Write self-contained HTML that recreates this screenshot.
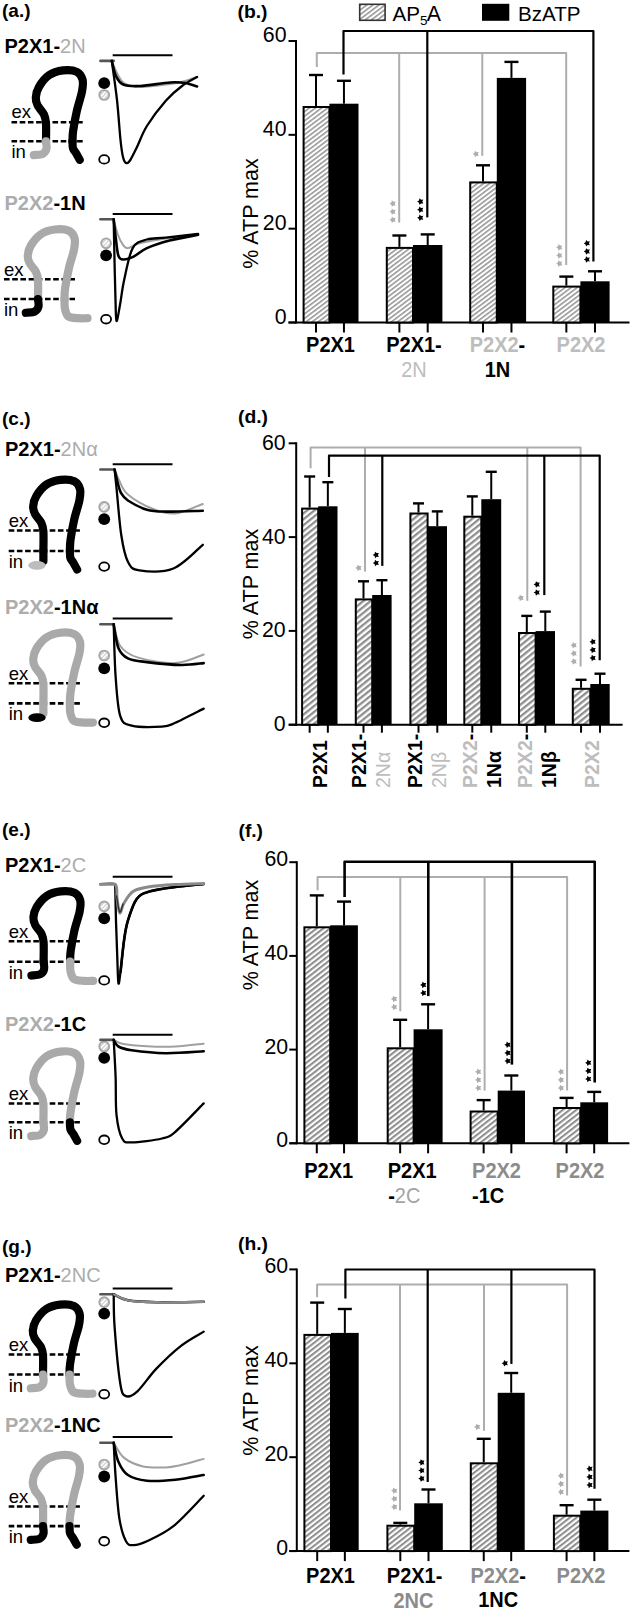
<!DOCTYPE html>
<html><head><meta charset="utf-8"><style>
html,body{margin:0;padding:0;background:#fff;width:633px;height:1611px;overflow:hidden;}
svg{display:block;}
</style></head><body>
<svg width="633" height="1611" viewBox="0 0 633 1611" font-family='&quot;Liberation Sans&quot;, sans-serif'>
<defs><pattern id="hatch" patternUnits="userSpaceOnUse" width="3.67" height="3.67" patternTransform="rotate(53)"><rect width="3.67" height="3.67" fill="#fff"/><rect x="0" y="0" width="1.58" height="3.67" fill="#969696"/></pattern><pattern id="hatchd" patternUnits="userSpaceOnUse" width="4.6" height="4.6" patternTransform="rotate(51)"><rect width="4.6" height="4.6" fill="#fff"/><rect x="0" y="0" width="2.3" height="4.6" fill="#8e8e8e"/></pattern><pattern id="hatchf" patternUnits="userSpaceOnUse" width="4.15" height="4.15" patternTransform="rotate(52)"><rect width="4.15" height="4.15" fill="#fff"/><rect x="0" y="0" width="2.08" height="4.15" fill="#8e8e8e"/></pattern><pattern id="hatchh" patternUnits="userSpaceOnUse" width="4.1" height="4.1" patternTransform="rotate(52)"><rect width="4.1" height="4.1" fill="#fff"/><rect x="0" y="0" width="2.05" height="4.1" fill="#8e8e8e"/></pattern></defs>
<rect width="633" height="1611" fill="#fff"/>
<line x1="296" y1="40" x2="296" y2="323.5" stroke="#000" stroke-width="2"/>
<line x1="288.5" y1="322.5" x2="296" y2="322.5" stroke="#000" stroke-width="2"/>
<text x="286.5" y="323.8" font-size="21.3" font-weight="normal" fill="#000" text-anchor="end">0</text>
<line x1="288.5" y1="228.67" x2="296" y2="228.67" stroke="#000" stroke-width="2"/>
<text x="286.5" y="229.97" font-size="21.3" font-weight="normal" fill="#000" text-anchor="end">20</text>
<line x1="288.5" y1="134.83" x2="296" y2="134.83" stroke="#000" stroke-width="2"/>
<text x="286.5" y="136.13" font-size="21.3" font-weight="normal" fill="#000" text-anchor="end">40</text>
<line x1="288.5" y1="41" x2="296" y2="41" stroke="#000" stroke-width="2"/>
<text x="286.5" y="42.3" font-size="21.3" font-weight="normal" fill="#000" text-anchor="end">60</text>
<line x1="288.5" y1="322.5" x2="629.5" y2="322.5" stroke="#000" stroke-width="2"/>
<text transform="translate(257.5 213.5) rotate(-90)" font-size="21.5" fill="#000" text-anchor="middle">% ATP max</text>
<text x="237.5" y="18" font-size="18.5" font-weight="bold" fill="#000" text-anchor="start" textLength="30" lengthAdjust="spacingAndGlyphs">(b.)</text>
<rect x="303.6" y="107" width="25.8" height="215.5" fill="url(#hatch)" stroke="#000" stroke-width="2"/>
<line x1="316" y1="75" x2="316" y2="106" stroke="#000" stroke-width="2"/>
<line x1="309" y1="75" x2="323" y2="75" stroke="#000" stroke-width="2.4"/>
<rect x="329.4" y="103.7" width="29.1" height="218.8" fill="#000"/>
<line x1="343.95" y1="80.8" x2="343.95" y2="103.7" stroke="#000" stroke-width="2"/>
<line x1="336.95" y1="80.8" x2="350.95" y2="80.8" stroke="#000" stroke-width="2.4"/>
<line x1="316" y1="322.5" x2="316" y2="332.5" stroke="#000" stroke-width="2"/>
<line x1="343.95" y1="322.5" x2="343.95" y2="332.5" stroke="#000" stroke-width="2"/>
<rect x="386.8" y="247.9" width="26.2" height="74.6" fill="url(#hatch)" stroke="#000" stroke-width="2"/>
<line x1="399.4" y1="235.5" x2="399.4" y2="246.9" stroke="#000" stroke-width="2"/>
<line x1="392.4" y1="235.5" x2="406.4" y2="235.5" stroke="#000" stroke-width="2.4"/>
<rect x="413" y="245" width="29.4" height="77.5" fill="#000"/>
<line x1="427.7" y1="234.4" x2="427.7" y2="245" stroke="#000" stroke-width="2"/>
<line x1="420.7" y1="234.4" x2="434.7" y2="234.4" stroke="#000" stroke-width="2.4"/>
<line x1="399.4" y1="322.5" x2="399.4" y2="332.5" stroke="#000" stroke-width="2"/>
<line x1="427.7" y1="322.5" x2="427.7" y2="332.5" stroke="#000" stroke-width="2"/>
<rect x="470.2" y="182.4" width="26.6" height="140.1" fill="url(#hatch)" stroke="#000" stroke-width="2"/>
<line x1="483" y1="165.3" x2="483" y2="181.4" stroke="#000" stroke-width="2"/>
<line x1="476" y1="165.3" x2="490" y2="165.3" stroke="#000" stroke-width="2.4"/>
<rect x="496.8" y="77.9" width="29.3" height="244.6" fill="#000"/>
<line x1="511.45" y1="61.9" x2="511.45" y2="77.9" stroke="#000" stroke-width="2"/>
<line x1="504.45" y1="61.9" x2="518.45" y2="61.9" stroke="#000" stroke-width="2.4"/>
<line x1="483" y1="322.5" x2="483" y2="332.5" stroke="#000" stroke-width="2"/>
<line x1="511.45" y1="322.5" x2="511.45" y2="332.5" stroke="#000" stroke-width="2"/>
<rect x="553.3" y="286.6" width="27.1" height="35.9" fill="url(#hatch)" stroke="#000" stroke-width="2"/>
<line x1="566.35" y1="276.6" x2="566.35" y2="285.6" stroke="#000" stroke-width="2"/>
<line x1="559.35" y1="276.6" x2="573.35" y2="276.6" stroke="#000" stroke-width="2.4"/>
<rect x="580.4" y="281.3" width="29.2" height="41.2" fill="#000"/>
<line x1="595" y1="271.3" x2="595" y2="281.3" stroke="#000" stroke-width="2"/>
<line x1="588" y1="271.3" x2="602" y2="271.3" stroke="#000" stroke-width="2.4"/>
<line x1="566.35" y1="322.5" x2="566.35" y2="332.5" stroke="#000" stroke-width="2"/>
<line x1="595" y1="322.5" x2="595" y2="332.5" stroke="#000" stroke-width="2"/>
<path d="M316.8 67 L316.8 53 L566.2 53 L566.2 265" fill="none" stroke="#adadad" stroke-width="2" stroke-linejoin="round"/>
<line x1="399.2" y1="53" x2="399.2" y2="222.5" stroke="#adadad" stroke-width="2"/>
<line x1="482.3" y1="53" x2="482.3" y2="155.8" stroke="#adadad" stroke-width="2"/>
<path d="M343.5 74.5 L343.5 31 L593.4 31 L593.4 261.5" fill="none" stroke="#000" stroke-width="2.2" stroke-linejoin="round"/>
<line x1="427.3" y1="31" x2="427.3" y2="217.4" stroke="#000" stroke-width="2.2"/>
<polygon points="389.5,219.8 391.39,218.7 391.85,216.57 393.48,218.02 395.65,217.8 394.77,219.8 395.65,221.8 393.48,221.58 391.85,223.03 391.39,220.9" fill="#adadad"/>
<polygon points="389.5,211.7 391.39,210.6 391.85,208.47 393.48,209.92 395.65,209.7 394.77,211.7 395.65,213.7 393.48,213.48 391.85,214.93 391.39,212.8" fill="#adadad"/>
<polygon points="389.5,203.6 391.39,202.5 391.85,200.37 393.48,201.82 395.65,201.6 394.77,203.6 395.65,205.6 393.48,205.38 391.85,206.83 391.39,204.7" fill="#adadad"/>
<polygon points="417.1,217.8 418.99,216.7 419.45,214.57 421.08,216.02 423.25,215.8 422.37,217.8 423.25,219.8 421.08,219.58 419.45,221.03 418.99,218.9" fill="#000"/>
<polygon points="417.1,209.7 418.99,208.6 419.45,206.47 421.08,207.92 423.25,207.7 422.37,209.7 423.25,211.7 421.08,211.48 419.45,212.93 418.99,210.8" fill="#000"/>
<polygon points="417.1,201.6 418.99,200.5 419.45,198.37 421.08,199.82 423.25,199.6 422.37,201.6 423.25,203.6 421.08,203.38 419.45,204.83 418.99,202.7" fill="#000"/>
<polygon points="472.6,154 474.49,152.9 474.95,150.77 476.58,152.22 478.75,152 477.87,154 478.75,156 476.58,155.78 474.95,157.23 474.49,155.1" fill="#adadad"/>
<polygon points="556.1,263.6 557.99,262.5 558.45,260.37 560.08,261.82 562.25,261.6 561.37,263.6 562.25,265.6 560.08,265.38 558.45,266.83 557.99,264.7" fill="#adadad"/>
<polygon points="556.1,255.5 557.99,254.4 558.45,252.27 560.08,253.72 562.25,253.5 561.37,255.5 562.25,257.5 560.08,257.28 558.45,258.73 557.99,256.6" fill="#adadad"/>
<polygon points="556.1,247.4 557.99,246.3 558.45,244.17 560.08,245.62 562.25,245.4 561.37,247.4 562.25,249.4 560.08,249.18 558.45,250.63 557.99,248.5" fill="#adadad"/>
<polygon points="583.7,259.5 585.59,258.4 586.05,256.27 587.68,257.72 589.85,257.5 588.97,259.5 589.85,261.5 587.68,261.28 586.05,262.73 585.59,260.6" fill="#000"/>
<polygon points="583.7,251.4 585.59,250.3 586.05,248.17 587.68,249.62 589.85,249.4 588.97,251.4 589.85,253.4 587.68,253.18 586.05,254.63 585.59,252.5" fill="#000"/>
<polygon points="583.7,243.3 585.59,242.2 586.05,240.07 587.68,241.52 589.85,241.3 588.97,243.3 589.85,245.3 587.68,245.08 586.05,246.53 585.59,244.4" fill="#000"/>
<text transform="translate(330.5 352.3) scale(0.93 1)" font-size="21.5" text-anchor="middle"><tspan fill="#000" font-weight="bold">P2X1</tspan></text>
<text transform="translate(414 352.3) scale(0.93 1)" font-size="21.5" text-anchor="middle"><tspan fill="#000" font-weight="bold">P2X1-</tspan></text>
<text transform="translate(414 377.3) scale(0.93 1)" font-size="21.5" text-anchor="middle"><tspan fill="#bdbdbd" font-weight="normal">2N</tspan></text>
<text transform="translate(497.5 352.3) scale(0.93 1)" font-size="21.5" text-anchor="middle"><tspan fill="#bdbdbd" font-weight="bold">P2X2</tspan><tspan fill="#000" font-weight="bold">-</tspan></text>
<text transform="translate(497.5 377.3) scale(0.93 1)" font-size="21.5" text-anchor="middle"><tspan fill="#000" font-weight="bold">1N</tspan></text>
<text transform="translate(581 352.3) scale(0.93 1)" font-size="21.5" text-anchor="middle"><tspan fill="#bdbdbd" font-weight="bold">P2X2</tspan></text>
<line x1="296.2" y1="442.3" x2="296.2" y2="725.7" stroke="#000" stroke-width="2"/>
<line x1="288.7" y1="724.7" x2="296.2" y2="724.7" stroke="#000" stroke-width="2"/>
<text x="285.7" y="731.2" font-size="21.3" font-weight="normal" fill="#000" text-anchor="end">0</text>
<line x1="288.7" y1="630.9" x2="296.2" y2="630.9" stroke="#000" stroke-width="2"/>
<text x="285.7" y="637.4" font-size="21.3" font-weight="normal" fill="#000" text-anchor="end">20</text>
<line x1="288.7" y1="537.1" x2="296.2" y2="537.1" stroke="#000" stroke-width="2"/>
<text x="285.7" y="543.6" font-size="21.3" font-weight="normal" fill="#000" text-anchor="end">40</text>
<line x1="288.7" y1="443.3" x2="296.2" y2="443.3" stroke="#000" stroke-width="2"/>
<text x="285.7" y="449.8" font-size="21.3" font-weight="normal" fill="#000" text-anchor="end">60</text>
<line x1="288.7" y1="724.7" x2="622.6" y2="724.7" stroke="#000" stroke-width="2"/>
<text transform="translate(257.5 584) rotate(-90)" font-size="21.5" fill="#000" text-anchor="middle">% ATP max</text>
<text x="238" y="423" font-size="18.5" font-weight="bold" fill="#000" text-anchor="start" textLength="30" lengthAdjust="spacingAndGlyphs">(d.)</text>
<rect x="302.1" y="508.6" width="16.1" height="216.1" fill="url(#hatchd)" stroke="#000" stroke-width="2"/>
<line x1="309.65" y1="476.5" x2="309.65" y2="507.6" stroke="#000" stroke-width="2"/>
<line x1="304.15" y1="476.5" x2="315.15" y2="476.5" stroke="#000" stroke-width="2.4"/>
<rect x="318.2" y="506.3" width="19.3" height="218.4" fill="#000"/>
<line x1="327.85" y1="482.2" x2="327.85" y2="506.3" stroke="#000" stroke-width="2"/>
<line x1="322.35" y1="482.2" x2="333.35" y2="482.2" stroke="#000" stroke-width="2.4"/>
<line x1="309.65" y1="724.7" x2="309.65" y2="732.7" stroke="#000" stroke-width="2"/>
<line x1="327.85" y1="724.7" x2="327.85" y2="732.7" stroke="#000" stroke-width="2"/>
<rect x="355.8" y="599.4" width="16.4" height="125.3" fill="url(#hatchd)" stroke="#000" stroke-width="2"/>
<line x1="363.5" y1="581.3" x2="363.5" y2="598.4" stroke="#000" stroke-width="2"/>
<line x1="358" y1="581.3" x2="369" y2="581.3" stroke="#000" stroke-width="2.4"/>
<rect x="372.2" y="595" width="19.4" height="129.7" fill="#000"/>
<line x1="381.9" y1="580.2" x2="381.9" y2="595" stroke="#000" stroke-width="2"/>
<line x1="376.4" y1="580.2" x2="387.4" y2="580.2" stroke="#000" stroke-width="2.4"/>
<line x1="363.5" y1="724.7" x2="363.5" y2="732.7" stroke="#000" stroke-width="2"/>
<line x1="381.9" y1="724.7" x2="381.9" y2="732.7" stroke="#000" stroke-width="2"/>
<rect x="410.4" y="513.5" width="17.2" height="211.2" fill="url(#hatchd)" stroke="#000" stroke-width="2"/>
<line x1="418.5" y1="503.4" x2="418.5" y2="512.5" stroke="#000" stroke-width="2"/>
<line x1="413" y1="503.4" x2="424" y2="503.4" stroke="#000" stroke-width="2.4"/>
<rect x="427.6" y="526.2" width="19.4" height="198.5" fill="#000"/>
<line x1="437.3" y1="511.4" x2="437.3" y2="526.2" stroke="#000" stroke-width="2"/>
<line x1="431.8" y1="511.4" x2="442.8" y2="511.4" stroke="#000" stroke-width="2.4"/>
<line x1="418.5" y1="724.7" x2="418.5" y2="732.7" stroke="#000" stroke-width="2"/>
<line x1="437.3" y1="724.7" x2="437.3" y2="732.7" stroke="#000" stroke-width="2"/>
<rect x="464.3" y="516.7" width="17" height="208" fill="url(#hatchd)" stroke="#000" stroke-width="2"/>
<line x1="472.3" y1="496.4" x2="472.3" y2="515.7" stroke="#000" stroke-width="2"/>
<line x1="466.8" y1="496.4" x2="477.8" y2="496.4" stroke="#000" stroke-width="2.4"/>
<rect x="481.3" y="499.2" width="19.9" height="225.5" fill="#000"/>
<line x1="491.25" y1="471.8" x2="491.25" y2="499.2" stroke="#000" stroke-width="2"/>
<line x1="485.75" y1="471.8" x2="496.75" y2="471.8" stroke="#000" stroke-width="2.4"/>
<line x1="472.3" y1="724.7" x2="472.3" y2="732.7" stroke="#000" stroke-width="2"/>
<line x1="491.25" y1="724.7" x2="491.25" y2="732.7" stroke="#000" stroke-width="2"/>
<rect x="519" y="633" width="16.6" height="91.7" fill="url(#hatchd)" stroke="#000" stroke-width="2"/>
<line x1="526.8" y1="615.9" x2="526.8" y2="632" stroke="#000" stroke-width="2"/>
<line x1="521.3" y1="615.9" x2="532.3" y2="615.9" stroke="#000" stroke-width="2.4"/>
<rect x="535.6" y="631.1" width="19.4" height="93.6" fill="#000"/>
<line x1="545.3" y1="611.6" x2="545.3" y2="631.1" stroke="#000" stroke-width="2"/>
<line x1="539.8" y1="611.6" x2="550.8" y2="611.6" stroke="#000" stroke-width="2.4"/>
<line x1="526.8" y1="724.7" x2="526.8" y2="732.7" stroke="#000" stroke-width="2"/>
<line x1="545.3" y1="724.7" x2="545.3" y2="732.7" stroke="#000" stroke-width="2"/>
<rect x="572.8" y="688.8" width="17.5" height="35.9" fill="url(#hatchd)" stroke="#000" stroke-width="2"/>
<line x1="581.05" y1="679.8" x2="581.05" y2="687.8" stroke="#000" stroke-width="2"/>
<line x1="575.55" y1="679.8" x2="586.55" y2="679.8" stroke="#000" stroke-width="2.4"/>
<rect x="590.3" y="684" width="19.4" height="40.7" fill="#000"/>
<line x1="600" y1="673.7" x2="600" y2="684" stroke="#000" stroke-width="2"/>
<line x1="594.5" y1="673.7" x2="605.5" y2="673.7" stroke="#000" stroke-width="2.4"/>
<line x1="581.05" y1="724.7" x2="581.05" y2="732.7" stroke="#000" stroke-width="2"/>
<line x1="600" y1="724.7" x2="600" y2="732.7" stroke="#000" stroke-width="2"/>
<path d="M310.6 468.3 L310.6 447.5 L580.6 447.5 L580.6 666.5" fill="none" stroke="#adadad" stroke-width="2" stroke-linejoin="round"/>
<line x1="365" y1="447.5" x2="365" y2="571.5" stroke="#adadad" stroke-width="2"/>
<line x1="527.3" y1="447.5" x2="527.3" y2="600.8" stroke="#adadad" stroke-width="2"/>
<path d="M329 476.9 L329 455.6 L599.7 455.6 L599.7 660.3" fill="none" stroke="#000" stroke-width="2.2" stroke-linejoin="round"/>
<line x1="382.3" y1="455.6" x2="382.3" y2="565.9" stroke="#000" stroke-width="2.2"/>
<line x1="544.3" y1="455.6" x2="544.3" y2="595.1" stroke="#000" stroke-width="2.2"/>
<polygon points="355.3,567.9 357.19,566.8 357.65,564.67 359.28,566.12 361.45,565.9 360.57,567.9 361.45,569.9 359.28,569.68 357.65,571.13 357.19,569" fill="#adadad"/>
<polygon points="372.7,563 374.59,561.9 375.05,559.77 376.68,561.22 378.85,561 377.97,563 378.85,565 376.68,564.78 375.05,566.23 374.59,564.1" fill="#000"/>
<polygon points="372.7,554.9 374.59,553.8 375.05,551.67 376.68,553.12 378.85,552.9 377.97,554.9 378.85,556.9 376.68,556.68 375.05,558.13 374.59,556" fill="#000"/>
<polygon points="517.5,597.9 519.39,596.8 519.85,594.67 521.48,596.12 523.65,595.9 522.77,597.9 523.65,599.9 521.48,599.68 519.85,601.13 519.39,599" fill="#adadad"/>
<polygon points="533.6,592.5 535.49,591.4 535.95,589.27 537.58,590.72 539.75,590.5 538.87,592.5 539.75,594.5 537.58,594.28 535.95,595.73 535.49,593.6" fill="#000"/>
<polygon points="533.6,584.4 535.49,583.3 535.95,581.17 537.58,582.62 539.75,582.4 538.87,584.4 539.75,586.4 537.58,586.18 535.95,587.63 535.49,585.5" fill="#000"/>
<polygon points="570.5,661.5 572.39,660.4 572.85,658.27 574.48,659.72 576.65,659.5 575.77,661.5 576.65,663.5 574.48,663.28 572.85,664.73 572.39,662.6" fill="#adadad"/>
<polygon points="570.5,653.4 572.39,652.3 572.85,650.17 574.48,651.62 576.65,651.4 575.77,653.4 576.65,655.4 574.48,655.18 572.85,656.63 572.39,654.5" fill="#adadad"/>
<polygon points="570.5,645.3 572.39,644.2 572.85,642.07 574.48,643.52 576.65,643.3 575.77,645.3 576.65,647.3 574.48,647.08 572.85,648.53 572.39,646.4" fill="#adadad"/>
<polygon points="589.5,658 591.39,656.9 591.85,654.77 593.48,656.22 595.65,656 594.77,658 595.65,660 593.48,659.78 591.85,661.23 591.39,659.1" fill="#000"/>
<polygon points="589.5,649.9 591.39,648.8 591.85,646.67 593.48,648.12 595.65,647.9 594.77,649.9 595.65,651.9 593.48,651.68 591.85,653.13 591.39,651" fill="#000"/>
<polygon points="589.5,641.8 591.39,640.7 591.85,638.57 593.48,640.02 595.65,639.8 594.77,641.8 595.65,643.8 593.48,643.58 591.85,645.03 591.39,642.9" fill="#000"/>
<text transform="translate(326.5 788) rotate(-90) scale(0.93 1)" font-size="21"><tspan fill="#000" font-weight="bold">P2X1</tspan></text>
<text transform="translate(366.2 788) rotate(-90) scale(0.93 1)" font-size="21"><tspan fill="#000" font-weight="bold">P2X1-</tspan></text>
<text transform="translate(389.5 788) rotate(-90) scale(0.93 1)" font-size="21"><tspan fill="#bdbdbd" font-weight="normal">2N&#945;</tspan></text>
<text transform="translate(421.8 788) rotate(-90) scale(0.93 1)" font-size="21"><tspan fill="#000" font-weight="bold">P2X1-</tspan></text>
<text transform="translate(446 788) rotate(-90) scale(0.93 1)" font-size="21"><tspan fill="#bdbdbd" font-weight="normal">2N&#946;</tspan></text>
<text transform="translate(476.6 788) rotate(-90) scale(0.93 1)" font-size="21"><tspan fill="#bdbdbd" font-weight="bold">P2X2</tspan><tspan fill="#000" font-weight="bold">-</tspan></text>
<text transform="translate(500.5 788) rotate(-90) scale(0.93 1)" font-size="21"><tspan fill="#000" font-weight="bold">1N&#945;</tspan></text>
<text transform="translate(532.4 788) rotate(-90) scale(0.93 1)" font-size="21"><tspan fill="#bdbdbd" font-weight="bold">P2X2</tspan><tspan fill="#000" font-weight="bold">-</tspan></text>
<text transform="translate(556 788) rotate(-90) scale(0.93 1)" font-size="21"><tspan fill="#000" font-weight="bold">1N&#946;</tspan></text>
<text transform="translate(598.9 788) rotate(-90) scale(0.93 1)" font-size="21"><tspan fill="#bdbdbd" font-weight="bold">P2X2</tspan></text>
<line x1="296.8" y1="861.2" x2="296.8" y2="1144.3" stroke="#000" stroke-width="2"/>
<line x1="289.3" y1="1143.3" x2="296.8" y2="1143.3" stroke="#000" stroke-width="2"/>
<text x="288.1" y="1147.2" font-size="21.3" font-weight="normal" fill="#000" text-anchor="end">0</text>
<line x1="289.3" y1="1049.6" x2="296.8" y2="1049.6" stroke="#000" stroke-width="2"/>
<text x="288.1" y="1053.5" font-size="21.3" font-weight="normal" fill="#000" text-anchor="end">20</text>
<line x1="289.3" y1="955.9" x2="296.8" y2="955.9" stroke="#000" stroke-width="2"/>
<text x="288.1" y="959.8" font-size="21.3" font-weight="normal" fill="#000" text-anchor="end">40</text>
<line x1="289.3" y1="862.2" x2="296.8" y2="862.2" stroke="#000" stroke-width="2"/>
<text x="288.1" y="866.1" font-size="21.3" font-weight="normal" fill="#000" text-anchor="end">60</text>
<line x1="289.3" y1="1143.3" x2="629.4" y2="1143.3" stroke="#000" stroke-width="2"/>
<text transform="translate(257.5 935) rotate(-90)" font-size="21.5" fill="#000" text-anchor="middle">% ATP max</text>
<text x="238.5" y="837" font-size="18.5" font-weight="bold" fill="#000" text-anchor="start" textLength="24.5" lengthAdjust="spacingAndGlyphs">(f.)</text>
<rect x="304.4" y="927.3" width="25.8" height="216" fill="url(#hatchf)" stroke="#000" stroke-width="2"/>
<line x1="316.8" y1="895.4" x2="316.8" y2="926.3" stroke="#000" stroke-width="2"/>
<line x1="309.8" y1="895.4" x2="323.8" y2="895.4" stroke="#000" stroke-width="2.4"/>
<rect x="330.2" y="925.3" width="27.7" height="218" fill="#000"/>
<line x1="344.05" y1="901.6" x2="344.05" y2="925.3" stroke="#000" stroke-width="2"/>
<line x1="337.05" y1="901.6" x2="351.05" y2="901.6" stroke="#000" stroke-width="2.4"/>
<line x1="316.8" y1="1143.3" x2="316.8" y2="1153.3" stroke="#000" stroke-width="2"/>
<line x1="344.05" y1="1143.3" x2="344.05" y2="1153.3" stroke="#000" stroke-width="2"/>
<rect x="387.7" y="1048.3" width="25.9" height="95" fill="url(#hatchf)" stroke="#000" stroke-width="2"/>
<line x1="400.15" y1="1019.8" x2="400.15" y2="1047.3" stroke="#000" stroke-width="2"/>
<line x1="393.15" y1="1019.8" x2="407.15" y2="1019.8" stroke="#000" stroke-width="2.4"/>
<rect x="413.6" y="1029.3" width="29" height="114" fill="#000"/>
<line x1="428.1" y1="1004.3" x2="428.1" y2="1029.3" stroke="#000" stroke-width="2"/>
<line x1="421.1" y1="1004.3" x2="435.1" y2="1004.3" stroke="#000" stroke-width="2.4"/>
<line x1="400.15" y1="1143.3" x2="400.15" y2="1153.3" stroke="#000" stroke-width="2"/>
<line x1="428.1" y1="1143.3" x2="428.1" y2="1153.3" stroke="#000" stroke-width="2"/>
<rect x="470.6" y="1111.5" width="27.1" height="31.8" fill="url(#hatchf)" stroke="#000" stroke-width="2"/>
<line x1="483.65" y1="1100.1" x2="483.65" y2="1110.5" stroke="#000" stroke-width="2"/>
<line x1="476.65" y1="1100.1" x2="490.65" y2="1100.1" stroke="#000" stroke-width="2.4"/>
<rect x="497.7" y="1090.6" width="27.3" height="52.7" fill="#000"/>
<line x1="511.35" y1="1075.5" x2="511.35" y2="1090.6" stroke="#000" stroke-width="2"/>
<line x1="504.35" y1="1075.5" x2="518.35" y2="1075.5" stroke="#000" stroke-width="2.4"/>
<line x1="483.65" y1="1143.3" x2="483.65" y2="1153.3" stroke="#000" stroke-width="2"/>
<line x1="511.35" y1="1143.3" x2="511.35" y2="1153.3" stroke="#000" stroke-width="2"/>
<rect x="553.9" y="1108" width="26.4" height="35.3" fill="url(#hatchf)" stroke="#000" stroke-width="2"/>
<line x1="566.6" y1="1097.9" x2="566.6" y2="1107" stroke="#000" stroke-width="2"/>
<line x1="559.6" y1="1097.9" x2="573.6" y2="1097.9" stroke="#000" stroke-width="2.4"/>
<rect x="580.3" y="1102.3" width="27.8" height="41" fill="#000"/>
<line x1="594.2" y1="1091.9" x2="594.2" y2="1102.3" stroke="#000" stroke-width="2"/>
<line x1="587.2" y1="1091.9" x2="601.2" y2="1091.9" stroke="#000" stroke-width="2.4"/>
<line x1="566.6" y1="1143.3" x2="566.6" y2="1153.3" stroke="#000" stroke-width="2"/>
<line x1="594.2" y1="1143.3" x2="594.2" y2="1153.3" stroke="#000" stroke-width="2"/>
<path d="M317.6 890.2 L317.6 877 L567.1 877 L567.1 1090.6" fill="none" stroke="#adadad" stroke-width="2" stroke-linejoin="round"/>
<line x1="400.3" y1="877" x2="400.3" y2="1011.3" stroke="#adadad" stroke-width="2"/>
<line x1="484.6" y1="877" x2="484.6" y2="1090.6" stroke="#adadad" stroke-width="2"/>
<path d="M344.6 896.9 L344.6 861.8 L594.7 861.8 L594.7 1082.4" fill="none" stroke="#000" stroke-width="2.6" stroke-linejoin="round"/>
<line x1="428.3" y1="861.8" x2="428.3" y2="996.1" stroke="#000" stroke-width="2.6"/>
<line x1="511.9" y1="861.8" x2="511.9" y2="1064.6" stroke="#000" stroke-width="2.6"/>
<polygon points="390.9,1007 392.79,1005.9 393.25,1003.77 394.88,1005.22 397.05,1005 396.17,1007 397.05,1009 394.88,1008.78 393.25,1010.23 392.79,1008.1" fill="#adadad"/>
<polygon points="390.9,998.9 392.79,997.8 393.25,995.67 394.88,997.12 397.05,996.9 396.17,998.9 397.05,1000.9 394.88,1000.68 393.25,1002.13 392.79,1000" fill="#adadad"/>
<polygon points="420.1,993 421.99,991.9 422.45,989.77 424.08,991.22 426.25,991 425.37,993 426.25,995 424.08,994.78 422.45,996.23 421.99,994.1" fill="#000"/>
<polygon points="420.1,984.9 421.99,983.8 422.45,981.67 424.08,983.12 426.25,982.9 425.37,984.9 426.25,986.9 424.08,986.68 422.45,988.13 421.99,986" fill="#000"/>
<polygon points="475,1088 476.89,1086.9 477.35,1084.77 478.98,1086.22 481.15,1086 480.27,1088 481.15,1090 478.98,1089.78 477.35,1091.23 476.89,1089.1" fill="#adadad"/>
<polygon points="475,1079.9 476.89,1078.8 477.35,1076.67 478.98,1078.12 481.15,1077.9 480.27,1079.9 481.15,1081.9 478.98,1081.68 477.35,1083.13 476.89,1081" fill="#adadad"/>
<polygon points="475,1071.8 476.89,1070.7 477.35,1068.57 478.98,1070.02 481.15,1069.8 480.27,1071.8 481.15,1073.8 478.98,1073.58 477.35,1075.03 476.89,1072.9" fill="#adadad"/>
<polygon points="504.4,1061 506.29,1059.9 506.75,1057.77 508.38,1059.22 510.55,1059 509.67,1061 510.55,1063 508.38,1062.78 506.75,1064.23 506.29,1062.1" fill="#000"/>
<polygon points="504.4,1052.9 506.29,1051.8 506.75,1049.67 508.38,1051.12 510.55,1050.9 509.67,1052.9 510.55,1054.9 508.38,1054.68 506.75,1056.13 506.29,1054" fill="#000"/>
<polygon points="504.4,1044.8 506.29,1043.7 506.75,1041.57 508.38,1043.02 510.55,1042.8 509.67,1044.8 510.55,1046.8 508.38,1046.58 506.75,1048.03 506.29,1045.9" fill="#000"/>
<polygon points="557.7,1088 559.59,1086.9 560.05,1084.77 561.68,1086.22 563.85,1086 562.97,1088 563.85,1090 561.68,1089.78 560.05,1091.23 559.59,1089.1" fill="#adadad"/>
<polygon points="557.7,1079.9 559.59,1078.8 560.05,1076.67 561.68,1078.12 563.85,1077.9 562.97,1079.9 563.85,1081.9 561.68,1081.68 560.05,1083.13 559.59,1081" fill="#adadad"/>
<polygon points="557.7,1071.8 559.59,1070.7 560.05,1068.57 561.68,1070.02 563.85,1069.8 562.97,1071.8 563.85,1073.8 561.68,1073.58 560.05,1075.03 559.59,1072.9" fill="#adadad"/>
<polygon points="585.1,1079 586.99,1077.9 587.45,1075.77 589.08,1077.22 591.25,1077 590.37,1079 591.25,1081 589.08,1080.78 587.45,1082.23 586.99,1080.1" fill="#000"/>
<polygon points="585.1,1070.9 586.99,1069.8 587.45,1067.67 589.08,1069.12 591.25,1068.9 590.37,1070.9 591.25,1072.9 589.08,1072.68 587.45,1074.13 586.99,1072" fill="#000"/>
<polygon points="585.1,1062.8 586.99,1061.7 587.45,1059.57 589.08,1061.02 591.25,1060.8 590.37,1062.8 591.25,1064.8 589.08,1064.58 587.45,1066.03 586.99,1063.9" fill="#000"/>
<text transform="translate(304.2 1178.3) scale(0.93 1)" font-size="21.5" text-anchor="start"><tspan fill="#000" font-weight="bold">P2X1</tspan></text>
<text transform="translate(387.7 1178.3) scale(0.93 1)" font-size="21.5" text-anchor="start"><tspan fill="#000" font-weight="bold">P2X1</tspan></text>
<text transform="translate(388.2 1203) scale(0.93 1)" font-size="21.5" text-anchor="start"><tspan fill="#000" font-weight="bold">-</tspan><tspan fill="#a3a3a3" font-weight="normal">2C</tspan></text>
<text transform="translate(472.1 1178.3) scale(0.93 1)" font-size="21.5" text-anchor="start"><tspan fill="#8c8c8c" font-weight="bold">P2X2</tspan></text>
<text transform="translate(472.1 1203) scale(0.93 1)" font-size="21.5" text-anchor="start"><tspan fill="#000" font-weight="bold">-1C</tspan></text>
<text transform="translate(555.6 1178.3) scale(0.93 1)" font-size="21.5" text-anchor="start"><tspan fill="#8c8c8c" font-weight="bold">P2X2</tspan></text>
<line x1="296.8" y1="1268.4" x2="296.8" y2="1552.1" stroke="#000" stroke-width="2"/>
<line x1="289.3" y1="1551.1" x2="296.8" y2="1551.1" stroke="#000" stroke-width="2"/>
<text x="288.1" y="1555" font-size="21.3" font-weight="normal" fill="#000" text-anchor="end">0</text>
<line x1="289.3" y1="1457.2" x2="296.8" y2="1457.2" stroke="#000" stroke-width="2"/>
<text x="288.1" y="1461.1" font-size="21.3" font-weight="normal" fill="#000" text-anchor="end">20</text>
<line x1="289.3" y1="1363.3" x2="296.8" y2="1363.3" stroke="#000" stroke-width="2"/>
<text x="288.1" y="1367.2" font-size="21.3" font-weight="normal" fill="#000" text-anchor="end">40</text>
<line x1="289.3" y1="1269.4" x2="296.8" y2="1269.4" stroke="#000" stroke-width="2"/>
<text x="288.1" y="1273.3" font-size="21.3" font-weight="normal" fill="#000" text-anchor="end">60</text>
<line x1="289.3" y1="1551.1" x2="629.4" y2="1551.1" stroke="#000" stroke-width="2"/>
<text transform="translate(257.5 1400.5) rotate(-90)" font-size="21.5" fill="#000" text-anchor="middle">% ATP max</text>
<text x="238" y="1250" font-size="18.5" font-weight="bold" fill="#000" text-anchor="start" textLength="30" lengthAdjust="spacingAndGlyphs">(h.)</text>
<rect x="304.4" y="1334.9" width="26.6" height="216.2" fill="url(#hatchh)" stroke="#000" stroke-width="2"/>
<line x1="317.2" y1="1302.6" x2="317.2" y2="1333.9" stroke="#000" stroke-width="2"/>
<line x1="310.2" y1="1302.6" x2="324.2" y2="1302.6" stroke="#000" stroke-width="2.4"/>
<rect x="331" y="1332.9" width="27.7" height="218.2" fill="#000"/>
<line x1="344.85" y1="1309" x2="344.85" y2="1332.9" stroke="#000" stroke-width="2"/>
<line x1="337.85" y1="1309" x2="351.85" y2="1309" stroke="#000" stroke-width="2.4"/>
<line x1="317.2" y1="1551.1" x2="317.2" y2="1561.1" stroke="#000" stroke-width="2"/>
<line x1="344.85" y1="1551.1" x2="344.85" y2="1561.1" stroke="#000" stroke-width="2"/>
<rect x="387.4" y="1525.7" width="26.8" height="25.4" fill="url(#hatchh)" stroke="#000" stroke-width="2"/>
<line x1="400.3" y1="1522.9" x2="400.3" y2="1524.7" stroke="#000" stroke-width="2"/>
<line x1="393.3" y1="1522.9" x2="407.3" y2="1522.9" stroke="#000" stroke-width="2.4"/>
<rect x="414.2" y="1503.3" width="28.6" height="47.8" fill="#000"/>
<line x1="428.5" y1="1489.5" x2="428.5" y2="1503.3" stroke="#000" stroke-width="2"/>
<line x1="421.5" y1="1489.5" x2="435.5" y2="1489.5" stroke="#000" stroke-width="2.4"/>
<line x1="400.3" y1="1551.1" x2="400.3" y2="1561.1" stroke="#000" stroke-width="2"/>
<line x1="428.5" y1="1551.1" x2="428.5" y2="1561.1" stroke="#000" stroke-width="2"/>
<rect x="470.8" y="1463.3" width="26.9" height="87.8" fill="url(#hatchh)" stroke="#000" stroke-width="2"/>
<line x1="483.75" y1="1438.8" x2="483.75" y2="1462.3" stroke="#000" stroke-width="2"/>
<line x1="476.75" y1="1438.8" x2="490.75" y2="1438.8" stroke="#000" stroke-width="2.4"/>
<rect x="497.7" y="1392.8" width="27" height="158.3" fill="#000"/>
<line x1="511.2" y1="1373" x2="511.2" y2="1392.8" stroke="#000" stroke-width="2"/>
<line x1="504.2" y1="1373" x2="518.2" y2="1373" stroke="#000" stroke-width="2.4"/>
<line x1="483.75" y1="1551.1" x2="483.75" y2="1561.1" stroke="#000" stroke-width="2"/>
<line x1="511.2" y1="1551.1" x2="511.2" y2="1561.1" stroke="#000" stroke-width="2"/>
<rect x="553.9" y="1515.7" width="26.4" height="35.4" fill="url(#hatchh)" stroke="#000" stroke-width="2"/>
<line x1="566.6" y1="1505.2" x2="566.6" y2="1514.7" stroke="#000" stroke-width="2"/>
<line x1="559.6" y1="1505.2" x2="573.6" y2="1505.2" stroke="#000" stroke-width="2.4"/>
<rect x="580.3" y="1510.6" width="28.1" height="40.5" fill="#000"/>
<line x1="594.35" y1="1499.7" x2="594.35" y2="1510.6" stroke="#000" stroke-width="2"/>
<line x1="587.35" y1="1499.7" x2="601.35" y2="1499.7" stroke="#000" stroke-width="2.4"/>
<line x1="566.6" y1="1551.1" x2="566.6" y2="1561.1" stroke="#000" stroke-width="2"/>
<line x1="594.35" y1="1551.1" x2="594.35" y2="1561.1" stroke="#000" stroke-width="2"/>
<path d="M317.1 1297.3 L317.1 1284.4 L567.1 1284.4 L567.1 1495.6" fill="none" stroke="#adadad" stroke-width="2" stroke-linejoin="round"/>
<line x1="400" y1="1284.4" x2="400" y2="1510.4" stroke="#adadad" stroke-width="2"/>
<line x1="484" y1="1284.4" x2="484" y2="1430.7" stroke="#adadad" stroke-width="2"/>
<path d="M345.4 1298.6 L345.4 1269.5 L594.5 1269.5 L594.5 1488.8" fill="none" stroke="#000" stroke-width="2.2" stroke-linejoin="round"/>
<line x1="427.7" y1="1269.5" x2="427.7" y2="1482" stroke="#000" stroke-width="2.2"/>
<line x1="511.4" y1="1269.5" x2="511.4" y2="1363.9" stroke="#000" stroke-width="2.2"/>
<polygon points="391.1,1506.9 392.99,1505.8 393.45,1503.67 395.08,1505.12 397.25,1504.9 396.37,1506.9 397.25,1508.9 395.08,1508.68 393.45,1510.13 392.99,1508" fill="#adadad"/>
<polygon points="391.1,1498.8 392.99,1497.7 393.45,1495.57 395.08,1497.02 397.25,1496.8 396.37,1498.8 397.25,1500.8 395.08,1500.58 393.45,1502.03 392.99,1499.9" fill="#adadad"/>
<polygon points="391.1,1490.7 392.99,1489.6 393.45,1487.47 395.08,1488.92 397.25,1488.7 396.37,1490.7 397.25,1492.7 395.08,1492.48 393.45,1493.93 392.99,1491.8" fill="#adadad"/>
<polygon points="418.3,1478.6 420.19,1477.5 420.65,1475.37 422.28,1476.82 424.45,1476.6 423.57,1478.6 424.45,1480.6 422.28,1480.38 420.65,1481.83 420.19,1479.7" fill="#000"/>
<polygon points="418.3,1470.5 420.19,1469.4 420.65,1467.27 422.28,1468.72 424.45,1468.5 423.57,1470.5 424.45,1472.5 422.28,1472.28 420.65,1473.73 420.19,1471.6" fill="#000"/>
<polygon points="418.3,1462.4 420.19,1461.3 420.65,1459.17 422.28,1460.62 424.45,1460.4 423.57,1462.4 424.45,1464.4 422.28,1464.18 420.65,1465.63 420.19,1463.5" fill="#000"/>
<polygon points="474,1426.9 475.89,1425.8 476.35,1423.67 477.98,1425.12 480.15,1424.9 479.27,1426.9 480.15,1428.9 477.98,1428.68 476.35,1430.13 475.89,1428" fill="#adadad"/>
<polygon points="501.7,1363.3 503.59,1362.2 504.05,1360.07 505.68,1361.52 507.85,1361.3 506.97,1363.3 507.85,1365.3 505.68,1365.08 504.05,1366.53 503.59,1364.4" fill="#000"/>
<polygon points="557.7,1492 559.59,1490.9 560.05,1488.77 561.68,1490.22 563.85,1490 562.97,1492 563.85,1494 561.68,1493.78 560.05,1495.23 559.59,1493.1" fill="#adadad"/>
<polygon points="557.7,1483.9 559.59,1482.8 560.05,1480.67 561.68,1482.12 563.85,1481.9 562.97,1483.9 563.85,1485.9 561.68,1485.68 560.05,1487.13 559.59,1485" fill="#adadad"/>
<polygon points="557.7,1475.8 559.59,1474.7 560.05,1472.57 561.68,1474.02 563.85,1473.8 562.97,1475.8 563.85,1477.8 561.68,1477.58 560.05,1479.03 559.59,1476.9" fill="#adadad"/>
<polygon points="586.4,1485 588.29,1483.9 588.75,1481.77 590.38,1483.22 592.55,1483 591.67,1485 592.55,1487 590.38,1486.78 588.75,1488.23 588.29,1486.1" fill="#000"/>
<polygon points="586.4,1476.9 588.29,1475.8 588.75,1473.67 590.38,1475.12 592.55,1474.9 591.67,1476.9 592.55,1478.9 590.38,1478.68 588.75,1480.13 588.29,1478" fill="#000"/>
<polygon points="586.4,1468.8 588.29,1467.7 588.75,1465.57 590.38,1467.02 592.55,1466.8 591.67,1468.8 592.55,1470.8 590.38,1470.58 588.75,1472.03 588.29,1469.9" fill="#000"/>
<text transform="translate(330.5 1583.2) scale(0.93 1)" font-size="21.5" text-anchor="middle"><tspan fill="#000" font-weight="bold">P2X1</tspan></text>
<text transform="translate(414.6 1583.2) scale(0.93 1)" font-size="21.5" text-anchor="middle"><tspan fill="#000" font-weight="bold">P2X1-</tspan></text>
<text transform="translate(413.4 1608.2) scale(0.93 1)" font-size="21.5" text-anchor="middle"><tspan fill="#8c8c8c" font-weight="bold">2NC</tspan></text>
<text transform="translate(498.2 1583.2) scale(0.93 1)" font-size="21.5" text-anchor="middle"><tspan fill="#8c8c8c" font-weight="bold">P2X2</tspan><tspan fill="#000" font-weight="bold">-</tspan></text>
<text transform="translate(498.2 1607.1) scale(0.93 1)" font-size="21.5" text-anchor="middle"><tspan fill="#000" font-weight="bold">1NC</tspan></text>
<text transform="translate(581 1583.2) scale(0.93 1)" font-size="21.5" text-anchor="middle"><tspan fill="#8c8c8c" font-weight="bold">P2X2</tspan></text>
<rect x="359.7" y="4.3" width="25.4" height="16" fill="url(#hatch)" stroke="#333" stroke-width="1.6"/>
<text x="392.5" y="20.6" font-size="20.6">AP<tspan font-size="13.5" dy="4.5">5</tspan><tspan dy="-4.5" dx="-0.8" font-size="21.3">A</tspan></text>
<rect x="482" y="3.8" width="27.3" height="17" fill="#000"/>
<text x="518" y="20.9" font-size="20.6" font-weight="normal" fill="#000" text-anchor="start">BzATP</text>
<text x="2" y="17" font-size="19" font-weight="bold" fill="#000" text-anchor="start">(a.)</text>
<text transform="translate(4.5 52.9) scale(1 1)" font-size="20" text-anchor="start"><tspan fill="#000" font-weight="bold">P2X1-</tspan><tspan fill="#acacac" font-weight="normal">2N</tspan></text>
<line x1="11.5" y1="122.2" x2="83" y2="122.2" stroke="#000" stroke-width="2.6" stroke-dasharray="5.6 2.6"/>
<line x1="11.5" y1="141.3" x2="83" y2="141.3" stroke="#000" stroke-width="2.6" stroke-dasharray="5.6 2.6"/>
<text x="11.5" y="118.4" font-size="18.5" font-weight="normal" fill="#000" text-anchor="start">ex</text>
<text x="11.5" y="158.3" font-size="18.5" font-weight="normal" fill="#000" text-anchor="start">in</text>
<path d="M46 141.3 C46 138.32 46.33 127.87 46 123.41 C45.67 118.94 45.38 117.5 44 114.52 C42.62 111.54 39.07 108.37 37.7 105.52 C36.33 102.67 35.58 100.55 35.8 97.43 C36.02 94.32 36.78 90.53 39 86.82 C41.22 83.11 45.1 77.92 49.1 75.2 C53.1 72.47 58.37 71 63 70.44 C67.63 69.89 73.63 70.31 76.9 71.86 C80.17 73.41 81.75 76.48 82.6 79.74 C83.45 83.01 82.95 86.31 82 91.47 C81.05 96.63 78.38 104.08 76.9 110.68 C75.42 117.27 73.83 125.94 73.1 131.05 C72.37 136.15 72.6 139.59 72.5 141.3" fill="none" stroke="#000" stroke-width="8.2" stroke-linecap="round" stroke-linejoin="round"/>
<path d="M46 141.3 C46.08 142.55 47.03 146.72 46.5 148.8 C45.97 150.88 44.92 152.75 42.8 153.8 C40.68 154.85 35.3 154.88 33.8 155.1" fill="none" stroke="#acacac" stroke-width="8.2" stroke-linecap="round" stroke-linejoin="round"/>
<path d="M72.5 141.3 C72.58 142.47 72.4 146.3 73 148.3 C73.6 150.3 74.98 151.38 76.1 153.3 C77.22 155.22 79.1 158.72 79.7 159.8" fill="none" stroke="#000" stroke-width="8.2" stroke-linecap="round" stroke-linejoin="round"/>
<circle cx="104.2" cy="95" r="4.9" fill="#d4d4d4" stroke="#a6a6a6" stroke-width="1.9"/>
<line x1="101" y1="96.2" x2="105.4" y2="91.8" stroke="#fff" stroke-width="1.5"/>
<line x1="103" y1="98.2" x2="107.4" y2="93.8" stroke="#fff" stroke-width="1.5"/>
<circle cx="104.2" cy="83.2" r="5.9" fill="#000"/>
<ellipse cx="104.2" cy="159.4" rx="5" ry="4.3" fill="#fff" stroke="#000" stroke-width="1.8"/>
<line x1="112.7" y1="55.2" x2="172.5" y2="55.2" stroke="#000" stroke-width="2"/>
<path d="M100.4 60.9 L113.7 60.9" fill="none" stroke="#555" stroke-width="2.6" stroke-linecap="round" stroke-linejoin="round"/>
<path d="M111.8 60.9 C112.67 62.92 114.97 69.32 117 73 C119.03 76.68 120.17 80.67 124 83 C127.83 85.33 132.33 86.83 140 87 C147.67 87.17 162.5 85 170 84 C177.5 83 180.48 82.17 185 81 C189.52 79.83 195.08 77.67 197.1 77" fill="none" stroke="#a0a0a0" stroke-width="2" stroke-linecap="round" stroke-linejoin="round"/>
<path d="M111.8 60.9 C112.5 63.42 114.1 72.07 116 76 C117.9 79.93 119.2 82.83 123.2 84.5 C127.2 86.17 132.2 86.33 140 86 C147.8 85.67 162.5 83 170 82.5 C177.5 82 180.48 82.35 185 83 C189.52 83.65 195.08 85.83 197.1 86.4" fill="none" stroke="#000" stroke-width="2.6" stroke-linecap="round" stroke-linejoin="round"/>
<path d="M111.8 60.9 C112.67 67.42 115.55 86.82 117 100 C118.45 113.18 119.5 130.5 120.5 140 C121.5 149.5 122.08 153.17 123 157 C123.92 160.83 124.83 162.42 126 163 C127.17 163.58 128.17 163.17 130 160.5 C131.83 157.83 134.18 152.75 137 147 C139.82 141.25 142.1 133.72 146.9 126 C151.7 118.28 159.95 107.37 165.8 100.7 C171.65 94.03 176.78 89.95 182 86 C187.22 82.05 194.58 78.5 197.1 77" fill="none" stroke="#000" stroke-width="2.3" stroke-linecap="round" stroke-linejoin="round"/>
<text transform="translate(4.5 209.7) scale(1 1)" font-size="20" text-anchor="start"><tspan fill="#acacac" font-weight="bold">P2X2</tspan><tspan fill="#000" font-weight="bold">-1N</tspan></text>
<line x1="4" y1="279.3" x2="75" y2="279.3" stroke="#000" stroke-width="2.6" stroke-dasharray="5.6 2.6"/>
<line x1="4" y1="299" x2="75" y2="299" stroke="#000" stroke-width="2.6" stroke-dasharray="5.6 2.6"/>
<text x="4" y="275.5" font-size="18.5" font-weight="normal" fill="#000" text-anchor="start">ex</text>
<text x="4" y="316" font-size="18.5" font-weight="normal" fill="#000" text-anchor="start">in</text>
<path d="M38 299 C38 295.92 38.33 285.06 38 280.54 C37.67 276.03 37.38 274.79 36 271.91 C34.62 269.02 31.07 265.99 29.7 263.25 C28.33 260.51 27.58 258.46 27.8 255.46 C28.02 252.46 28.78 248.82 31 245.25 C33.22 241.68 37.1 236.69 41.1 234.06 C45.1 231.43 50.37 230.02 55 229.49 C59.63 228.95 65.63 229.36 68.9 230.85 C72.17 232.34 73.75 235.29 74.6 238.44 C75.45 241.58 74.95 244.76 74 249.72 C73.05 254.69 70.38 261.76 68.9 268.21 C67.42 274.66 65.83 283.29 65.1 288.42 C64.37 293.56 64.6 297.24 64.5 299" fill="none" stroke="#a9a9a9" stroke-width="8.2" stroke-linecap="round" stroke-linejoin="round"/>
<path d="M38 299 C38.08 300.25 39.03 304.42 38.5 306.5 C37.97 308.58 36.92 310.45 34.8 311.5 C32.68 312.55 27.3 312.58 25.8 312.8" fill="none" stroke="#000" stroke-width="8.2" stroke-linecap="round" stroke-linejoin="round"/>
<path d="M64.5 299 C64.58 300.67 64.33 306.08 65 309 C65.67 311.92 66.25 314.97 68.5 316.5 C70.75 318.03 75.33 317.92 78.5 318.2 C81.67 318.48 86 318.2 87.5 318.2" fill="none" stroke="#a9a9a9" stroke-width="8.2" stroke-linecap="round" stroke-linejoin="round"/>
<circle cx="106.1" cy="243.3" r="4.9" fill="#d4d4d4" stroke="#a6a6a6" stroke-width="1.9"/>
<line x1="102.9" y1="244.5" x2="107.3" y2="240.1" stroke="#fff" stroke-width="1.5"/>
<line x1="104.9" y1="246.5" x2="109.3" y2="242.1" stroke="#fff" stroke-width="1.5"/>
<circle cx="106.1" cy="255.3" r="5.9" fill="#000"/>
<ellipse cx="106.1" cy="319.2" rx="5" ry="4.3" fill="#fff" stroke="#000" stroke-width="1.8"/>
<line x1="112.7" y1="214" x2="172.5" y2="214" stroke="#000" stroke-width="2"/>
<path d="M100.4 219.3 L113.7 219.3" fill="none" stroke="#555" stroke-width="2.6" stroke-linecap="round" stroke-linejoin="round"/>
<path d="M113.7 219.3 C114.42 221.92 116.42 230.68 118 235 C119.58 239.32 121.55 243.02 123.2 245.2 C124.85 247.38 125.22 248.42 127.9 248.1 C130.58 247.78 132.98 244.88 139.3 243.3 C145.62 241.72 156.02 240.15 165.8 238.6 C175.58 237.05 192.63 234.77 198 234" fill="none" stroke="#a0a0a0" stroke-width="2" stroke-linecap="round" stroke-linejoin="round"/>
<path d="M113.7 219.3 C114.08 222.75 115.22 233.93 116 240 C116.78 246.07 117.2 252.45 118.4 255.7 C119.6 258.95 120.67 259.35 123.2 259.5 C125.73 259.65 129.65 258.5 133.6 256.6 C137.55 254.7 140.9 250.78 146.9 248.1 C152.9 245.42 161.08 242.72 169.6 240.5 C178.12 238.28 193.27 235.75 198 234.8" fill="none" stroke="#000" stroke-width="2.6" stroke-linecap="round" stroke-linejoin="round"/>
<path d="M113.7 219.3 C113.83 226.08 114.2 246.55 114.5 260 C114.8 273.45 115.17 289.83 115.5 300 C115.83 310.17 115.75 320.17 116.5 321 C117.25 321.83 118.73 311.78 120 305 C121.27 298.22 121.98 289.78 124.1 280.3 C126.22 270.82 128.9 254.9 132.7 248.1 C136.5 241.3 141.38 241.23 146.9 239.5 C152.42 237.77 157.27 238.63 165.8 237.7 C174.33 236.77 192.72 234.53 198.1 233.9" fill="none" stroke="#000" stroke-width="2.3" stroke-linecap="round" stroke-linejoin="round"/>
<text x="2" y="425" font-size="19" font-weight="bold" fill="#000" text-anchor="start">(c.)</text>
<text transform="translate(5 456.1) scale(1 1)" font-size="20" text-anchor="start"><tspan fill="#000" font-weight="bold">P2X1-</tspan><tspan fill="#acacac" font-weight="normal">2N&#945;</tspan></text>
<line x1="8.7" y1="530.5" x2="80.6" y2="530.5" stroke="#000" stroke-width="2.6" stroke-dasharray="5.6 2.6"/>
<line x1="8.7" y1="551" x2="80.6" y2="551" stroke="#000" stroke-width="2.6" stroke-dasharray="5.6 2.6"/>
<text x="8.7" y="526.7" font-size="18.5" font-weight="normal" fill="#000" text-anchor="start">ex</text>
<text x="8.7" y="568" font-size="18.5" font-weight="normal" fill="#000" text-anchor="start">in</text>
<path d="M43.4 551 C43.4 547.8 43.73 536.46 43.4 531.79 C43.07 527.13 42.78 525.92 41.4 522.98 C40.02 520.05 36.47 516.97 35.1 514.18 C33.73 511.39 32.98 509.32 33.2 506.27 C33.42 503.22 34.18 499.51 36.4 495.88 C38.62 492.25 42.5 487.18 46.5 484.5 C50.5 481.83 55.77 480.4 60.4 479.86 C65.03 479.31 71.03 479.72 74.3 481.24 C77.57 482.76 79.15 485.76 80 488.96 C80.85 492.15 80.35 495.39 79.4 500.43 C78.45 505.47 75.78 512.63 74.3 519.22 C72.82 525.82 71.23 534.7 70.5 539.99 C69.77 545.29 70 549.17 69.9 551" fill="none" stroke="#000" stroke-width="8.2" stroke-linecap="round" stroke-linejoin="round"/>
<path d="M43.4 551 L43.4 561" fill="none" stroke="#000" stroke-width="8.2" stroke-linecap="round" stroke-linejoin="round"/>
<ellipse cx="37" cy="565.3" rx="8.7" ry="4.4" fill="#bdbdbd"/>
<path d="M69.9 551 C69.98 552.17 69.8 556 70.4 558 C71 560 72.38 561.08 73.5 563 C74.62 564.92 76.5 568.42 77.1 569.5" fill="none" stroke="#000" stroke-width="8.2" stroke-linecap="round" stroke-linejoin="round"/>
<circle cx="104.2" cy="506.9" r="4.9" fill="#d4d4d4" stroke="#a6a6a6" stroke-width="1.9"/>
<line x1="101" y1="508.1" x2="105.4" y2="503.7" stroke="#fff" stroke-width="1.5"/>
<line x1="103" y1="510.1" x2="107.4" y2="505.7" stroke="#fff" stroke-width="1.5"/>
<circle cx="104.2" cy="519.2" r="5.9" fill="#000"/>
<ellipse cx="104.2" cy="566.6" rx="5" ry="4.3" fill="#fff" stroke="#000" stroke-width="1.8"/>
<line x1="112.7" y1="464.2" x2="172.5" y2="464.2" stroke="#000" stroke-width="2"/>
<path d="M100.4 469.5 L113.7 469.5" fill="none" stroke="#555" stroke-width="2.6" stroke-linecap="round" stroke-linejoin="round"/>
<path d="M114.6 469.5 C115.33 471.25 116.78 475.83 119 480 C121.22 484.17 122.3 489.7 127.9 494.5 C133.5 499.3 144.7 505.63 152.6 508.8 C160.5 511.97 166.93 514.3 175.3 513.5 C183.67 512.7 198.22 505.58 202.8 504" fill="none" stroke="#a0a0a0" stroke-width="2" stroke-linecap="round" stroke-linejoin="round"/>
<path d="M114.6 469.5 C115.08 471.58 116.43 478.08 117.5 482 C118.57 485.92 119.27 489.92 121 493 C122.73 496.08 123.58 497.72 127.9 500.5 C132.22 503.28 140.58 507.85 146.9 509.7 C153.22 511.55 156.48 511.43 165.8 511.6 C175.12 511.77 196.63 510.85 202.8 510.7" fill="none" stroke="#000" stroke-width="2.6" stroke-linecap="round" stroke-linejoin="round"/>
<path d="M114.6 469.5 C114.92 472.57 115.38 476.93 116.5 487.9 C117.62 498.87 119.4 522.98 121.3 535.3 C123.2 547.62 124.9 555.95 127.9 561.8 C130.9 567.65 131.72 569.28 139.3 570.4 C146.88 571.52 162.82 572.77 173.4 568.5 C183.98 564.23 197.9 548.75 202.8 544.8" fill="none" stroke="#000" stroke-width="2.3" stroke-linecap="round" stroke-linejoin="round"/>
<text transform="translate(5 613.7) scale(1 1)" font-size="20" text-anchor="start"><tspan fill="#acacac" font-weight="bold">P2X2</tspan><tspan fill="#000" font-weight="bold">-1N&#945;</tspan></text>
<line x1="8.7" y1="683.3" x2="80.6" y2="683.3" stroke="#000" stroke-width="2.6" stroke-dasharray="5.6 2.6"/>
<line x1="8.7" y1="703.4" x2="80.6" y2="703.4" stroke="#000" stroke-width="2.6" stroke-dasharray="5.6 2.6"/>
<text x="8.7" y="679.5" font-size="18.5" font-weight="normal" fill="#000" text-anchor="start">ex</text>
<text x="8.7" y="720.4" font-size="18.5" font-weight="normal" fill="#000" text-anchor="start">in</text>
<path d="M43.4 703.4 C43.4 700.26 43.73 689.17 43.4 684.57 C43.07 679.97 42.78 678.72 41.4 675.8 C40.02 672.87 36.47 669.79 35.1 667.01 C33.73 664.23 32.98 662.15 33.2 659.11 C33.42 656.07 34.18 652.36 36.4 648.74 C38.62 645.12 42.5 640.05 46.5 637.39 C50.5 634.72 55.77 633.29 60.4 632.75 C65.03 632.21 71.03 632.62 74.3 634.13 C77.57 635.64 79.15 638.64 80 641.83 C80.85 645.02 80.35 648.25 79.4 653.28 C78.45 658.32 75.78 665.49 74.3 672.04 C72.82 678.6 71.23 687.38 70.5 692.61 C69.77 697.84 70 701.6 69.9 703.4" fill="none" stroke="#a9a9a9" stroke-width="8.2" stroke-linecap="round" stroke-linejoin="round"/>
<path d="M43.4 703.4 L43.4 713.4" fill="none" stroke="#a9a9a9" stroke-width="8.2" stroke-linecap="round" stroke-linejoin="round"/>
<ellipse cx="37" cy="717.7" rx="8.7" ry="4.4" fill="#000"/>
<path d="M69.9 703.4 C69.98 705.07 69.73 710.48 70.4 713.4 C71.07 716.32 71.65 719.37 73.9 720.9 C76.15 722.43 80.73 722.32 83.9 722.6 C87.07 722.88 91.4 722.6 92.9 722.6" fill="none" stroke="#a9a9a9" stroke-width="8.2" stroke-linecap="round" stroke-linejoin="round"/>
<circle cx="104.2" cy="655.5" r="4.9" fill="#d4d4d4" stroke="#a6a6a6" stroke-width="1.9"/>
<line x1="101" y1="656.7" x2="105.4" y2="652.3" stroke="#fff" stroke-width="1.5"/>
<line x1="103" y1="658.7" x2="107.4" y2="654.3" stroke="#fff" stroke-width="1.5"/>
<circle cx="104.2" cy="668.4" r="5.9" fill="#000"/>
<ellipse cx="104.2" cy="722.8" rx="5" ry="4.3" fill="#fff" stroke="#000" stroke-width="1.8"/>
<line x1="112.7" y1="618.5" x2="172.5" y2="618.5" stroke="#000" stroke-width="2"/>
<path d="M100.4 624.2 L113.7 624.2" fill="none" stroke="#555" stroke-width="2.6" stroke-linecap="round" stroke-linejoin="round"/>
<path d="M113.7 624.2 C114.8 627.83 116.35 640.47 120.3 646 C124.25 651.53 128.23 654.55 137.4 657.4 C146.57 660.25 164.25 663.58 175.3 663.1 C186.35 662.62 198.97 655.93 203.7 654.5" fill="none" stroke="#a0a0a0" stroke-width="2" stroke-linecap="round" stroke-linejoin="round"/>
<path d="M113.7 624.2 C114.48 628.15 116.03 642.22 118.4 647.9 C120.77 653.58 123.15 655.93 127.9 658.3 C132.65 660.67 138.05 660.98 146.9 662.1 C155.75 663.22 171.53 664.83 181 665 C190.47 665.17 199.92 663.42 203.7 663.1" fill="none" stroke="#000" stroke-width="2.6" stroke-linecap="round" stroke-linejoin="round"/>
<path d="M113.7 624.2 C114.02 632.9 114.5 661.07 115.6 676.4 C116.7 691.73 117.62 708 120.3 716.2 C122.98 724.4 124.75 723.87 131.7 725.6 C138.65 727.33 154.73 727.07 162 726.6 C169.27 726.13 168.35 725.8 175.3 722.8 C182.25 719.8 198.97 710.97 203.7 708.6" fill="none" stroke="#000" stroke-width="2.3" stroke-linecap="round" stroke-linejoin="round"/>
<text x="2" y="836" font-size="19" font-weight="bold" fill="#000" text-anchor="start">(e.)</text>
<text transform="translate(5 872.4) scale(1 1)" font-size="20" text-anchor="start"><tspan fill="#000" font-weight="bold">P2X1-</tspan><tspan fill="#acacac" font-weight="normal">2C</tspan></text>
<line x1="8.7" y1="941.3" x2="80.6" y2="941.3" stroke="#000" stroke-width="2.6" stroke-dasharray="5.6 2.6"/>
<line x1="8.7" y1="961.7" x2="80.6" y2="961.7" stroke="#000" stroke-width="2.6" stroke-dasharray="5.6 2.6"/>
<text x="8.7" y="937.5" font-size="18.5" font-weight="normal" fill="#000" text-anchor="start">ex</text>
<text x="8.7" y="978.7" font-size="18.5" font-weight="normal" fill="#000" text-anchor="start">in</text>
<path d="M43.6 961.7 C43.6 958.51 43.93 947.22 43.6 942.59 C43.27 937.95 42.98 936.79 41.6 933.89 C40.22 931 36.67 927.96 35.3 925.22 C33.93 922.47 33.18 920.43 33.4 917.42 C33.62 914.41 34.38 910.76 36.6 907.19 C38.82 903.61 42.7 898.61 46.7 895.98 C50.7 893.35 55.97 891.93 60.6 891.4 C65.23 890.86 71.23 891.27 74.5 892.76 C77.77 894.26 79.35 897.21 80.2 900.36 C81.05 903.51 80.55 906.7 79.6 911.67 C78.65 916.64 75.98 923.68 74.5 930.19 C73.02 936.7 71.43 945.5 70.7 950.75 C69.97 956 70.2 959.87 70.1 961.7" fill="none" stroke="#000" stroke-width="8.2" stroke-linecap="round" stroke-linejoin="round"/>
<path d="M43.6 961.7 C43.68 962.95 44.63 967.12 44.1 969.2 C43.57 971.28 42.52 973.15 40.4 974.2 C38.28 975.25 32.9 975.28 31.4 975.5" fill="none" stroke="#000" stroke-width="8.2" stroke-linecap="round" stroke-linejoin="round"/>
<path d="M70.1 961.7 C70.18 963.37 69.93 968.78 70.6 971.7 C71.27 974.62 71.85 977.67 74.1 979.2 C76.35 980.73 80.93 980.62 84.1 980.9 C87.27 981.18 91.6 980.9 93.1 980.9" fill="none" stroke="#acacac" stroke-width="8.2" stroke-linecap="round" stroke-linejoin="round"/>
<circle cx="104.2" cy="906.4" r="4.9" fill="#d4d4d4" stroke="#a6a6a6" stroke-width="1.9"/>
<line x1="101" y1="907.6" x2="105.4" y2="903.2" stroke="#fff" stroke-width="1.5"/>
<line x1="103" y1="909.6" x2="107.4" y2="905.2" stroke="#fff" stroke-width="1.5"/>
<circle cx="104.2" cy="918.4" r="5.9" fill="#000"/>
<ellipse cx="104.2" cy="980.4" rx="5" ry="4.3" fill="#fff" stroke="#000" stroke-width="1.8"/>
<line x1="112.7" y1="876.7" x2="172.5" y2="876.7" stroke="#000" stroke-width="2"/>
<path d="M100.4 884.3 L113.7 884.3" fill="none" stroke="#555" stroke-width="2.6" stroke-linecap="round" stroke-linejoin="round"/>
<path d="M120.5 972 C121.1 966.67 122.87 948.57 124.1 940 C125.33 931.43 125.8 927.43 127.9 920.6 C130 913.77 133.12 903.85 136.7 899 C140.28 894.15 143.02 893.5 149.4 891.5 C155.78 889.5 165.95 888.25 175 887 C184.05 885.75 198.92 884.5 203.7 884" fill="none" stroke="#000" stroke-width="2.6" stroke-linecap="round" stroke-linejoin="round"/>
<path d="M115.2 884.3 C115.33 890.42 115.67 909.22 116 921 C116.33 932.78 116.8 944.67 117.2 955 C117.6 965.33 117.85 980.17 118.4 983 C118.95 985.83 119.55 979.17 120.5 972 C121.45 964.83 122.87 948.57 124.1 940 C125.33 931.43 125.8 927.43 127.9 920.6 C130 913.77 133.12 903.85 136.7 899 C140.28 894.15 143.02 893.5 149.4 891.5 C155.78 889.5 165.95 888.25 175 887 C184.05 885.75 198.92 884.5 203.7 884" fill="none" stroke="#000" stroke-width="2.3" stroke-linecap="round" stroke-linejoin="round"/>
<path d="M100.4 884.3 C102.87 884.3 112.43 882.02 115.2 884.3 C117.97 886.58 116.25 893.22 117 898 C117.75 902.78 118.53 912.17 119.7 913 C120.87 913.83 121.78 906.58 124 903 C126.22 899.42 129 894.17 133 891.5 C137 888.83 141 888.17 148 887 C155 885.83 165.72 885.08 175 884.5 C184.28 883.92 198.92 883.67 203.7 883.5" fill="none" stroke="#8a8a8a" stroke-width="3" stroke-linecap="round" stroke-linejoin="round"/>
<path d="M116.5 896 C117.03 898.67 118.62 910.67 119.7 912 C120.78 913.33 122.45 905.33 123 904" fill="none" stroke="#333" stroke-width="1.4" stroke-linecap="round" stroke-linejoin="round"/>
<text transform="translate(5 1030.8) scale(1 1)" font-size="20" text-anchor="start"><tspan fill="#acacac" font-weight="bold">P2X2</tspan><tspan fill="#000" font-weight="bold">-1C</tspan></text>
<line x1="8.7" y1="1103.5" x2="80.6" y2="1103.5" stroke="#000" stroke-width="2.6" stroke-dasharray="5.6 2.6"/>
<line x1="8.7" y1="1122.3" x2="80.6" y2="1122.3" stroke="#000" stroke-width="2.6" stroke-dasharray="5.6 2.6"/>
<text x="8.7" y="1099.7" font-size="18.5" font-weight="normal" fill="#000" text-anchor="start">ex</text>
<text x="8.7" y="1139.3" font-size="18.5" font-weight="normal" fill="#000" text-anchor="start">in</text>
<path d="M43.4 1122.3 C43.4 1119.36 43.73 1109.11 43.4 1104.69 C43.07 1100.27 42.78 1098.78 41.4 1095.79 C40.02 1092.8 36.47 1089.62 35.1 1086.76 C33.73 1083.9 32.98 1081.77 33.2 1078.65 C33.42 1075.52 34.18 1071.71 36.4 1067.99 C38.62 1064.27 42.5 1059.07 46.5 1056.33 C50.5 1053.59 55.77 1052.12 60.4 1051.56 C65.03 1051 71.03 1051.42 74.3 1052.98 C77.57 1054.54 79.15 1057.61 80 1060.89 C80.85 1064.17 80.35 1067.49 79.4 1072.66 C78.45 1077.83 75.78 1085.34 74.3 1091.94 C72.82 1098.53 71.23 1107.15 70.5 1112.21 C69.77 1117.27 70 1120.62 69.9 1122.3" fill="none" stroke="#a9a9a9" stroke-width="8.2" stroke-linecap="round" stroke-linejoin="round"/>
<path d="M43.4 1122.3 C43.48 1123.55 44.43 1127.72 43.9 1129.8 C43.37 1131.88 42.32 1133.75 40.2 1134.8 C38.08 1135.85 32.7 1135.88 31.2 1136.1" fill="none" stroke="#a9a9a9" stroke-width="8.2" stroke-linecap="round" stroke-linejoin="round"/>
<path d="M69.9 1122.3 C69.98 1123.47 69.8 1127.3 70.4 1129.3 C71 1131.3 72.38 1132.38 73.5 1134.3 C74.62 1136.22 76.5 1139.72 77.1 1140.8" fill="none" stroke="#000" stroke-width="8.2" stroke-linecap="round" stroke-linejoin="round"/>
<circle cx="104.2" cy="1046.5" r="4.9" fill="#d4d4d4" stroke="#a6a6a6" stroke-width="1.9"/>
<line x1="101" y1="1047.7" x2="105.4" y2="1043.3" stroke="#fff" stroke-width="1.5"/>
<line x1="103" y1="1049.7" x2="107.4" y2="1045.3" stroke="#fff" stroke-width="1.5"/>
<circle cx="104.2" cy="1057.9" r="5.9" fill="#000"/>
<ellipse cx="104.2" cy="1139.8" rx="5" ry="4.3" fill="#fff" stroke="#000" stroke-width="1.8"/>
<line x1="112.7" y1="1034.8" x2="172.5" y2="1034.8" stroke="#000" stroke-width="2"/>
<path d="M100.4 1039.9 L113.7 1039.9" fill="none" stroke="#555" stroke-width="2.6" stroke-linecap="round" stroke-linejoin="round"/>
<path d="M113.7 1039.9 C115.12 1040.53 116.67 1042.65 122.2 1043.7 C127.73 1044.75 138.05 1045.73 146.9 1046.2 C155.75 1046.67 165.83 1046.92 175.3 1046.5 C184.77 1046.08 198.97 1044.17 203.7 1043.7" fill="none" stroke="#a0a0a0" stroke-width="2" stroke-linecap="round" stroke-linejoin="round"/>
<path d="M113.7 1039.9 C114.48 1041 115.4 1044.77 118.4 1046.5 C121.4 1048.23 123.8 1049.18 131.7 1050.3 C139.6 1051.42 153.8 1053.03 165.8 1053.2 C177.8 1053.37 197.38 1051.62 203.7 1051.3" fill="none" stroke="#000" stroke-width="2.6" stroke-linecap="round" stroke-linejoin="round"/>
<path d="M113.7 1039.9 C114.02 1046.07 115.13 1064.42 115.6 1076.9 C116.07 1089.38 115.4 1104.53 116.5 1114.8 C117.6 1125.07 119.67 1133.92 122.2 1138.5 C124.73 1143.08 125.07 1142.3 131.7 1142.3 C138.33 1142.3 154.73 1140.25 162 1138.5 C169.27 1136.75 168.35 1137.65 175.3 1131.8 C182.25 1125.95 198.97 1108.13 203.7 1103.4" fill="none" stroke="#000" stroke-width="2.3" stroke-linecap="round" stroke-linejoin="round"/>
<text x="2" y="1253" font-size="19" font-weight="bold" fill="#000" text-anchor="start">(g.)</text>
<text transform="translate(5 1281.6) scale(1 1)" font-size="20" text-anchor="start"><tspan fill="#000" font-weight="bold">P2X1-</tspan><tspan fill="#acacac" font-weight="normal">2NC</tspan></text>
<line x1="8.7" y1="1354.5" x2="80.6" y2="1354.5" stroke="#000" stroke-width="2.6" stroke-dasharray="5.6 2.6"/>
<line x1="8.7" y1="1374.5" x2="80.6" y2="1374.5" stroke="#000" stroke-width="2.6" stroke-dasharray="5.6 2.6"/>
<text x="8.7" y="1350.7" font-size="18.5" font-weight="normal" fill="#000" text-anchor="start">ex</text>
<text x="8.7" y="1391.5" font-size="18.5" font-weight="normal" fill="#000" text-anchor="start">in</text>
<path d="M43 1374.5 C43 1371.38 43.33 1360.33 43 1355.76 C42.67 1351.2 42.38 1349.98 41 1347.09 C39.62 1344.2 36.07 1341.16 34.7 1338.42 C33.33 1335.67 32.58 1333.63 32.8 1330.62 C33.02 1327.61 33.78 1323.96 36 1320.39 C38.22 1316.81 42.1 1311.81 46.1 1309.18 C50.1 1306.55 55.37 1305.13 60 1304.6 C64.63 1304.06 70.63 1304.47 73.9 1305.96 C77.17 1307.46 78.75 1310.41 79.6 1313.56 C80.45 1316.71 79.95 1319.9 79 1324.87 C78.05 1329.84 75.38 1336.91 73.9 1343.39 C72.42 1349.87 70.83 1358.58 70.1 1363.76 C69.37 1368.95 69.6 1372.71 69.5 1374.5" fill="none" stroke="#000" stroke-width="8.2" stroke-linecap="round" stroke-linejoin="round"/>
<path d="M43 1374.5 C43.08 1375.75 44.03 1379.92 43.5 1382 C42.97 1384.08 41.92 1385.95 39.8 1387 C37.68 1388.05 32.3 1388.08 30.8 1388.3" fill="none" stroke="#acacac" stroke-width="8.2" stroke-linecap="round" stroke-linejoin="round"/>
<path d="M69.5 1374.5 C69.58 1376.17 69.33 1381.58 70 1384.5 C70.67 1387.42 71.25 1390.47 73.5 1392 C75.75 1393.53 80.33 1393.42 83.5 1393.7 C86.67 1393.98 91 1393.7 92.5 1393.7" fill="none" stroke="#acacac" stroke-width="8.2" stroke-linecap="round" stroke-linejoin="round"/>
<circle cx="104.2" cy="1302.2" r="4.9" fill="#d4d4d4" stroke="#a6a6a6" stroke-width="1.9"/>
<line x1="101" y1="1303.4" x2="105.4" y2="1299" stroke="#fff" stroke-width="1.5"/>
<line x1="103" y1="1305.4" x2="107.4" y2="1301" stroke="#fff" stroke-width="1.5"/>
<circle cx="104.2" cy="1313.6" r="5.9" fill="#000"/>
<ellipse cx="104.2" cy="1394.2" rx="5" ry="4.3" fill="#fff" stroke="#000" stroke-width="1.8"/>
<line x1="112.7" y1="1288.6" x2="172.5" y2="1288.6" stroke="#000" stroke-width="2"/>
<path d="M100.4 1294.3 L113.7 1294.3" fill="none" stroke="#555" stroke-width="2.6" stroke-linecap="round" stroke-linejoin="round"/>
<path d="M113.7 1294.3 C116.07 1295.3 120.78 1298.98 127.9 1300.3 C135.02 1301.62 143.77 1301.95 156.4 1302.2 C169.03 1302.45 195.82 1301.87 203.7 1301.8" fill="none" stroke="#000" stroke-width="2.6" stroke-linecap="round" stroke-linejoin="round"/>
<path d="M113.7 1294.3 C113.85 1299.73 113.5 1312 114.6 1326.9 C115.7 1341.8 118.4 1372.17 120.3 1383.7 C122.2 1395.23 123.15 1394.83 126 1396.1 C128.85 1397.37 132.33 1395.88 137.4 1391.3 C142.47 1386.72 149.13 1376.18 156.4 1368.6 C163.67 1361.02 173.12 1351.97 181 1345.8 C188.88 1339.63 199.92 1333.97 203.7 1331.6" fill="none" stroke="#000" stroke-width="2.3" stroke-linecap="round" stroke-linejoin="round"/>
<path d="M113.7 1294.3 C116.07 1295.3 120.78 1298.98 127.9 1300.3 C135.02 1301.62 143.77 1301.95 156.4 1302.2 C169.03 1302.45 195.82 1301.87 203.7 1301.8" fill="none" stroke="#8a8a8a" stroke-width="2.2" stroke-linecap="round" stroke-linejoin="round"/>
<text transform="translate(5 1432.1) scale(1 1)" font-size="20" text-anchor="start"><tspan fill="#acacac" font-weight="bold">P2X2</tspan><tspan fill="#000" font-weight="bold">-1NC</tspan></text>
<line x1="8.7" y1="1506.5" x2="80.6" y2="1506.5" stroke="#000" stroke-width="2.6" stroke-dasharray="5.6 2.6"/>
<line x1="8.7" y1="1526.1" x2="80.6" y2="1526.1" stroke="#000" stroke-width="2.6" stroke-dasharray="5.6 2.6"/>
<text x="8.7" y="1502.7" font-size="18.5" font-weight="normal" fill="#000" text-anchor="start">ex</text>
<text x="8.7" y="1543.1" font-size="18.5" font-weight="normal" fill="#000" text-anchor="start">in</text>
<path d="M43 1526.1 C43 1523.04 43.33 1512.27 43 1507.74 C42.67 1503.2 42.38 1501.85 41 1498.89 C39.62 1495.92 36.07 1492.79 34.7 1489.97 C33.33 1487.15 32.58 1485.04 32.8 1481.96 C33.02 1478.87 33.78 1475.11 36 1471.44 C38.22 1467.76 42.1 1462.62 46.1 1459.92 C50.1 1457.21 55.37 1455.76 60 1455.21 C64.63 1454.66 70.63 1455.07 73.9 1456.61 C77.17 1458.15 78.75 1461.18 79.6 1464.42 C80.45 1467.66 79.95 1470.94 79 1476.05 C78.05 1481.15 75.38 1488.49 73.9 1495.08 C72.42 1501.67 70.83 1510.41 70.1 1515.58 C69.37 1520.75 69.6 1524.35 69.5 1526.1" fill="none" stroke="#a9a9a9" stroke-width="8.2" stroke-linecap="round" stroke-linejoin="round"/>
<path d="M43 1526.1 C43.08 1527.35 44.03 1531.52 43.5 1533.6 C42.97 1535.68 41.92 1537.55 39.8 1538.6 C37.68 1539.65 32.3 1539.68 30.8 1539.9" fill="none" stroke="#000" stroke-width="8.2" stroke-linecap="round" stroke-linejoin="round"/>
<path d="M69.5 1526.1 C69.58 1527.27 69.4 1531.1 70 1533.1 C70.6 1535.1 71.98 1536.18 73.1 1538.1 C74.22 1540.02 76.1 1543.52 76.7 1544.6" fill="none" stroke="#000" stroke-width="8.2" stroke-linecap="round" stroke-linejoin="round"/>
<circle cx="104.2" cy="1464.5" r="4.9" fill="#d4d4d4" stroke="#a6a6a6" stroke-width="1.9"/>
<line x1="101" y1="1465.7" x2="105.4" y2="1461.3" stroke="#fff" stroke-width="1.5"/>
<line x1="103" y1="1467.7" x2="107.4" y2="1463.3" stroke="#fff" stroke-width="1.5"/>
<circle cx="104.2" cy="1476.5" r="5.9" fill="#000"/>
<ellipse cx="104.2" cy="1541.3" rx="5" ry="4.3" fill="#fff" stroke="#000" stroke-width="1.8"/>
<line x1="112.7" y1="1437.1" x2="172.5" y2="1437.1" stroke="#000" stroke-width="2"/>
<path d="M100.4 1442.7 L113.7 1442.7" fill="none" stroke="#555" stroke-width="2.6" stroke-linecap="round" stroke-linejoin="round"/>
<path d="M113.7 1442.7 C115.43 1445.23 119.2 1453.95 124.1 1457.9 C129 1461.85 136.15 1464.82 143.1 1466.4 C150.05 1467.98 159.8 1467.55 165.8 1467.4 C171.8 1467.25 172.78 1466.92 179.1 1465.5 C185.42 1464.08 199.6 1460 203.7 1458.9" fill="none" stroke="#a0a0a0" stroke-width="2" stroke-linecap="round" stroke-linejoin="round"/>
<path d="M113.7 1442.7 C114.48 1445.87 116.03 1456.32 118.4 1461.7 C120.77 1467.08 123.15 1471.83 127.9 1475 C132.65 1478.17 139 1479.92 146.9 1480.7 C154.8 1481.48 165.83 1480.65 175.3 1479.7 C184.77 1478.75 198.97 1475.78 203.7 1475" fill="none" stroke="#000" stroke-width="2.6" stroke-linecap="round" stroke-linejoin="round"/>
<path d="M113.7 1442.7 C114.02 1448.4 114.65 1464.25 115.6 1476.9 C116.55 1489.55 117.67 1507.87 119.4 1518.6 C121.13 1529.33 123.63 1536.88 126 1541.3 C128.37 1545.72 130.12 1545.1 133.6 1545.1 C137.08 1545.1 140.27 1544.45 146.9 1541.3 C153.53 1538.15 163.93 1533.78 173.4 1526.2 C182.87 1518.62 198.65 1500.87 203.7 1495.8" fill="none" stroke="#000" stroke-width="2.3" stroke-linecap="round" stroke-linejoin="round"/>
</svg>
</body></html>
